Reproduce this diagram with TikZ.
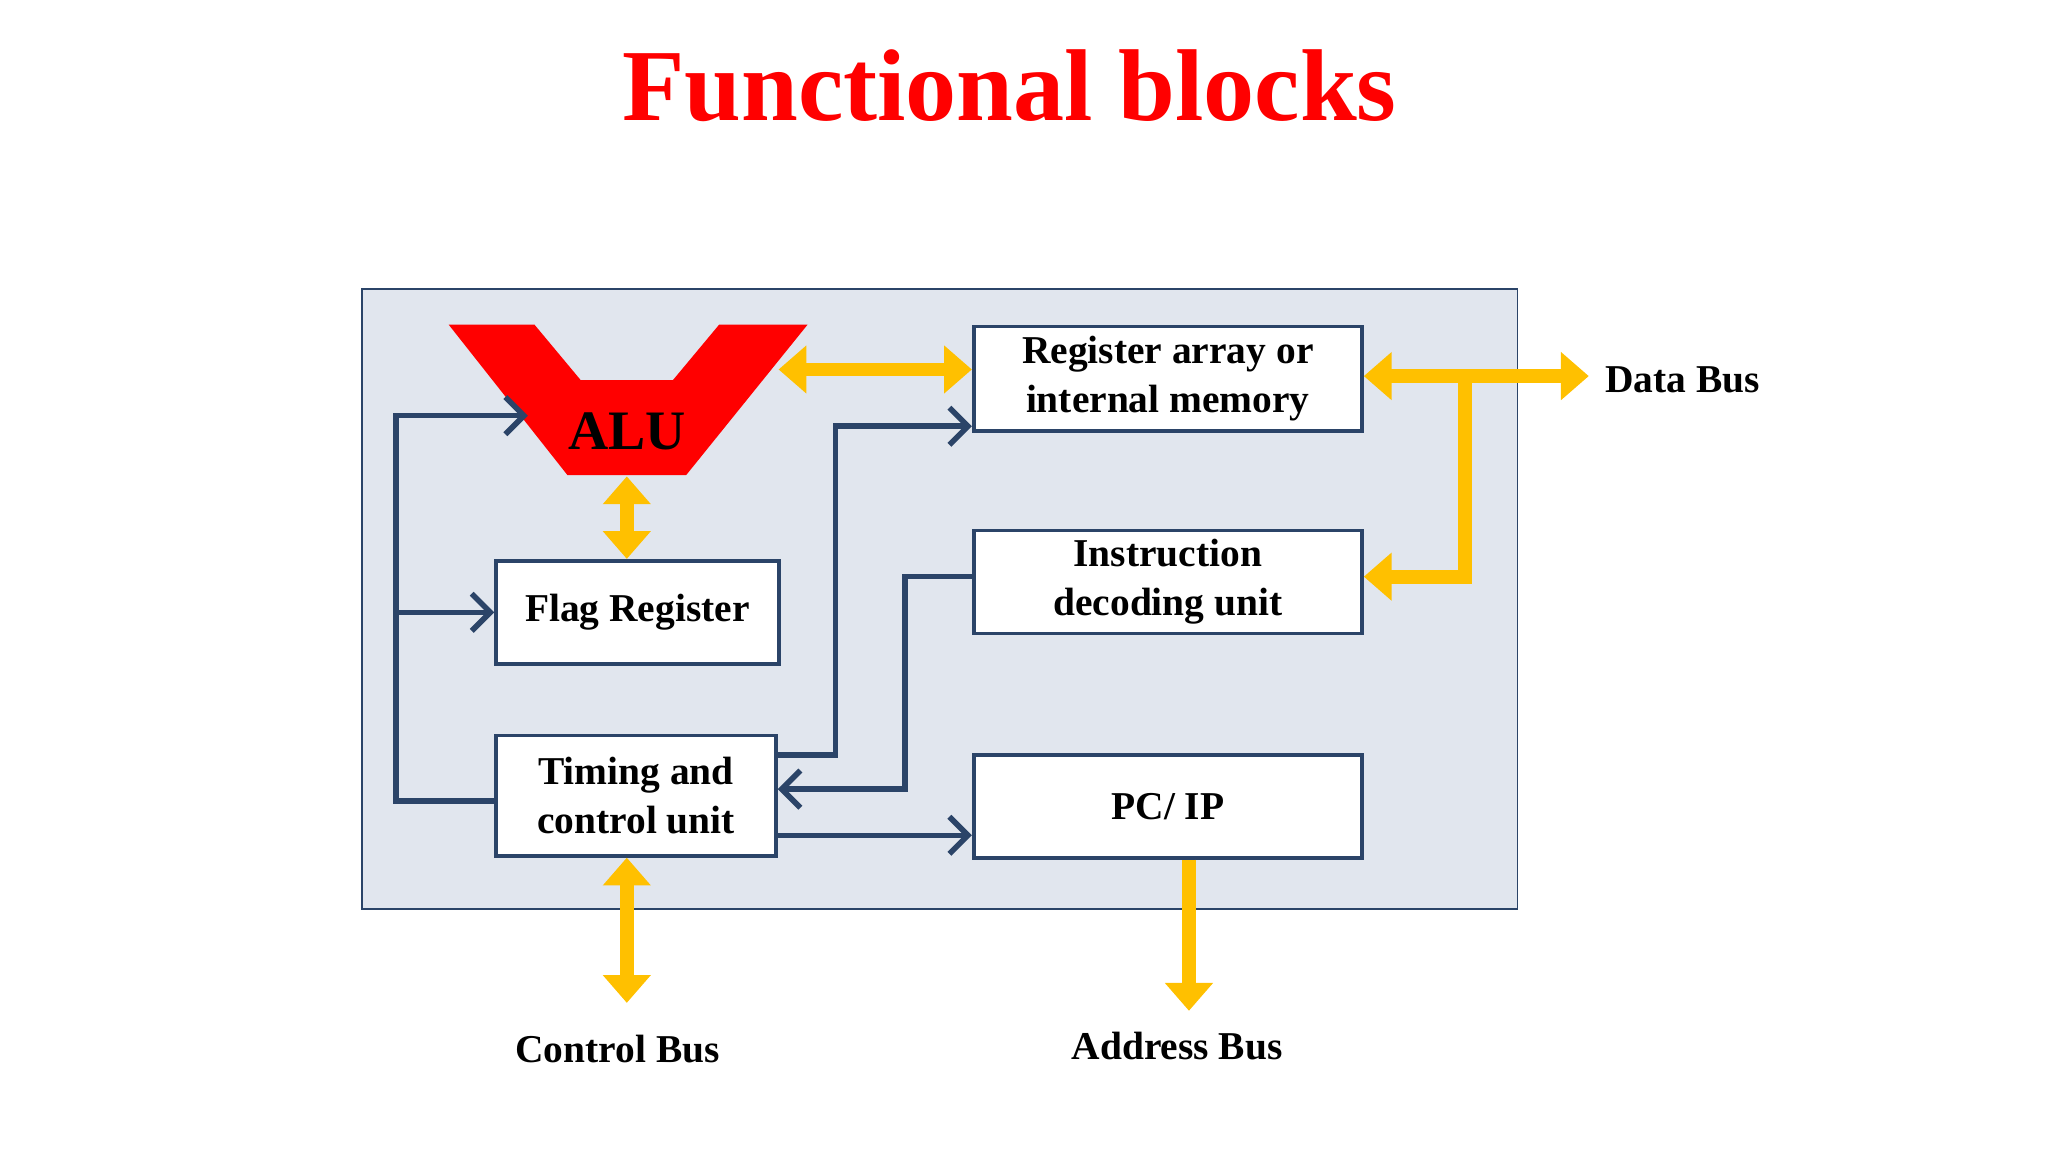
\documentclass[tikz,border=0pt]{standalone}
\usepackage{fontspec}
\setmainfont{Liberation Serif}
\usetikzlibrary{arrows.meta,positioning,calc}
\definecolor{busyellow}{HTML}{FFC000}
\definecolor{wireblue}{HTML}{2B4468}
\definecolor{panel}{HTML}{E1E6EE}

\begin{document}
\begin{tikzpicture}[x=0.01cm,y=-0.01cm,
blockbox/.style={draw=wireblue, fill=white, thick, inner sep=0pt, align=center, font=\fontsize{8.5}{10.5}\selectfont\bfseries},
bus/.style={draw=busyellow, line width=3pt, -{Triangle[width=10pt,length=6pt]}},
dbus/.style={bus, {Triangle[width=10pt,length=6pt]}-{Triangle[width=10pt,length=6pt]}},
wire/.style={draw=wireblue, line width=1.2pt, -{Straight Barb[length=4pt,width=8pt]}},
label/.style={font=\fontsize{8.5}{10.5}\selectfont\bfseries},
]
\useasboundingbox (0,0) rectangle (1552,873);
\node[text=red, font=\fontsize{22}{26}\selectfont\bfseries] (title) at (765,65) {Functional blocks};

\draw[wireblue, fill=panel] (274,219) rectangle (1150,689);

% ALU
\fill[red] (340,246) -- (405,246) -- (440,288) -- (510,288) -- (545,246) -- (612,246) -- (520,360) -- (430,360) -- cycle;
\node[font=\fontsize{12}{14}\selectfont\bfseries] (alu) at (475,327) {ALU};
\coordinate (alut) at (475,361);
\coordinate (alur) at (590,280);
\coordinate (alul) at (400,315);

\node[blockbox, minimum width=2.94cm, minimum height=0.79cm] (reg) at (885,287) {Register array or\\internal memory};
\node[blockbox, minimum width=2.94cm, minimum height=0.78cm] (ins) at (885,441) {Instruction\\decoding unit};
\node[blockbox, minimum width=2.94cm, minimum height=0.78cm] (pc) at (885,611) {PC/ IP};
\node[blockbox, minimum width=2.14cm, minimum height=0.78cm] (flag) at (483,464) {Flag Register};
\node[blockbox, minimum width=2.12cm, minimum height=0.91cm] (tcu) at (482,603) {Timing and\\control unit};

\node[label, anchor=west] (dbus) at (1204,288) {Data Bus};
\node[label] (cbus) at (468,795) {Control Bus};
\node[label] (abus) at (892,793) {Address Bus};

% buses
\draw[dbus] (alur) -- (reg.west |- alur);
\draw[dbus] (alut) -- (flag.north -| alut);
\draw[dbus] (reg.east |- 0,285) -- (dbus.west |- 0,285);
\draw[bus] (1110,285) -- (1110,437) -- (ins.east |- 0,437);
\draw[dbus] (tcu.south -| 475,0) -- (475,760);
\draw[bus] (pc.south -| 901,0) -- (901,766);

% control wires
\draw[wire] (tcu.west |- 0,607) -- (300,607) -- (300,315) -- (alul);
\draw[wire] (300,464) -- (flag.west);
\draw[wire] (tcu.east |- 0,572) -- (633,572) -- (633,323) -- (reg.west |- 0,323);
\draw[wire] (ins.west |- 0,437) -- (686,437) -- (686,598) -- (tcu.east |- 0,598);
\draw[wire] (tcu.east |- 0,633) -- (pc.west |- 0,633);
\end{tikzpicture}
\end{document}
